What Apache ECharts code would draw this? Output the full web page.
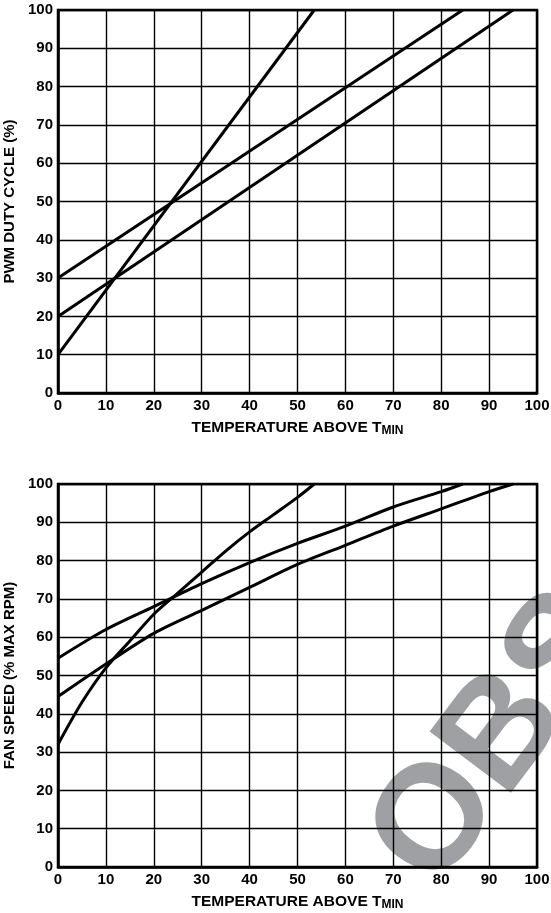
<!DOCTYPE html>
<html>
<head>
<meta charset="utf-8">
<script src="https://cdn.jsdelivr.net/npm/echarts@6/dist/echarts.min.js"></script>
<style>
html,body{margin:0;padding:0;background:#fff;}
#c{width:551px;height:913px;}
</style>
</head>
<body>
<div id="c"></div>
<script>
// ---- Data ----
var xTickMin = 0, xTickMax = 100, xTickStep = 10;
var yTickMin = 0, yTickMax = 100, yTickStep = 10;

// Top chart: PWM duty cycle vs temperature above Tmin
var dutyA = [[0, 10], [53.5, 100]];
var dutyB = [[0, 20], [95, 100]];
var dutyC = [[0, 30], [84.5, 100]];

// Bottom chart: fan speed (% max RPM) vs temperature above Tmin
var fanA = [[0, 32], [5, 43], [10, 52], [15, 59], [20, 66], [25, 71.5], [30, 77], [35, 82.5], [40, 87.5], [45, 92], [50, 96.5], [53.5, 100]];
var fanB = [[0, 44.5], [10, 53], [20, 61], [30, 67], [40, 73], [50, 79], [60, 84], [70, 89], [80, 93.5], [90, 98], [95, 100]];
var fanC = [[0, 54.5], [10, 62], [20, 68], [30, 74], [40, 79.5], [50, 84.5], [60, 89], [70, 94], [80, 98], [84.5, 100]];

var topYName = 'PWM DUTY CYCLE (%)';
var botYName = 'FAN SPEED (% MAX RPM)';
var xNameMain = 'TEMPERATURE ABOVE T';
var xNameSub = 'MIN';
var watermark = 'OBSOLETE';

// ---- Chart ----
var FONT = '"Liberation Sans", Arial, Helvetica, sans-serif';
var chart = echarts.init(document.getElementById('c'), null, {renderer: 'canvas'});

function xAxisCfg(gi) {
  return {
    type: 'value', gridIndex: gi, min: xTickMin, max: xTickMax, interval: xTickStep,
    name: '{a|' + xNameMain + '}{s|' + xNameSub + '}',
    nameLocation: 'middle', nameGap: 27,
    nameTextStyle: {
      rich: {
        a: {fontFamily: FONT, fontWeight: 'bold', fontSize: 15.5, color: '#000', lineHeight: 18, verticalAlign: 'top'},
        s: {fontFamily: FONT, fontWeight: 'bold', fontSize: 12, color: '#000', lineHeight: 18, verticalAlign: 'top', padding: [5, 0, 0, 0]}
      }
    },
    axisLine: {show: true, onZero: false, lineStyle: {color: '#000', width: 2.5}},
    axisTick: {show: false},
    axisLabel: {margin: 5, color: '#000', fontFamily: FONT, fontWeight: 'bold', fontSize: 15},
    splitLine: {show: true, lineStyle: {color: '#000', width: 1.4}}
  };
}
function yAxisCfg(gi, nm) {
  return {
    type: 'value', gridIndex: gi, min: yTickMin, max: yTickMax, interval: yTickStep,
    name: nm, nameLocation: 'middle', nameGap: 34,
    nameTextStyle: {fontFamily: FONT, fontWeight: 'bold', fontSize: 15, color: '#000'},
    axisLine: {show: true, onZero: false, lineStyle: {color: '#000', width: 2.5}},
    axisTick: {show: false},
    axisLabel: {margin: 5, color: '#000', fontFamily: FONT, fontWeight: 'bold', fontSize: 15},
    splitLine: {show: true, lineStyle: {color: '#000', width: 1.4}}
  };
}
function lineSeries(data, xi, smooth) {
  return {
    type: 'line', xAxisIndex: xi, yAxisIndex: xi, data: data,
    showSymbol: false, smooth: smooth, z: 5, animation: false,
    lineStyle: {color: '#000', width: 3}
  };
}

chart.setOption({
  backgroundColor: '#fff',
  animation: false,
  grid: [
    {left: 58, right: 14, top: 10, height: 383, containLabel: false, outerBoundsMode: 'none', show: true, borderColor: '#000', borderWidth: 2.5, backgroundColor: 'transparent'},
    {left: 58, right: 14, top: 484, height: 383, containLabel: false, outerBoundsMode: 'none', show: true, borderColor: '#000', borderWidth: 2.5, backgroundColor: 'transparent'}
  ],
  xAxis: [xAxisCfg(0), xAxisCfg(1)],
  yAxis: [yAxisCfg(0, topYName), yAxisCfg(1, botYName)],
  graphic: [{
    type: 'text', z: -10, zlevel: 0, silent: true,
    x: 403, y: 868, rotation: 0.925,
    style: {text: watermark, fill: '#9fa0a3', font: 'bold 148px ' + FONT, textAlign: 'left', textVerticalAlign: 'middle'}
  }],
  series: [
    lineSeries(dutyA, 0, false),
    lineSeries(dutyB, 0, false),
    lineSeries(dutyC, 0, false),
    lineSeries(fanA, 1, 0.3),
    lineSeries(fanB, 1, 0.3),
    lineSeries(fanC, 1, 0.3)
  ]
});
</script>
</body>
</html>
